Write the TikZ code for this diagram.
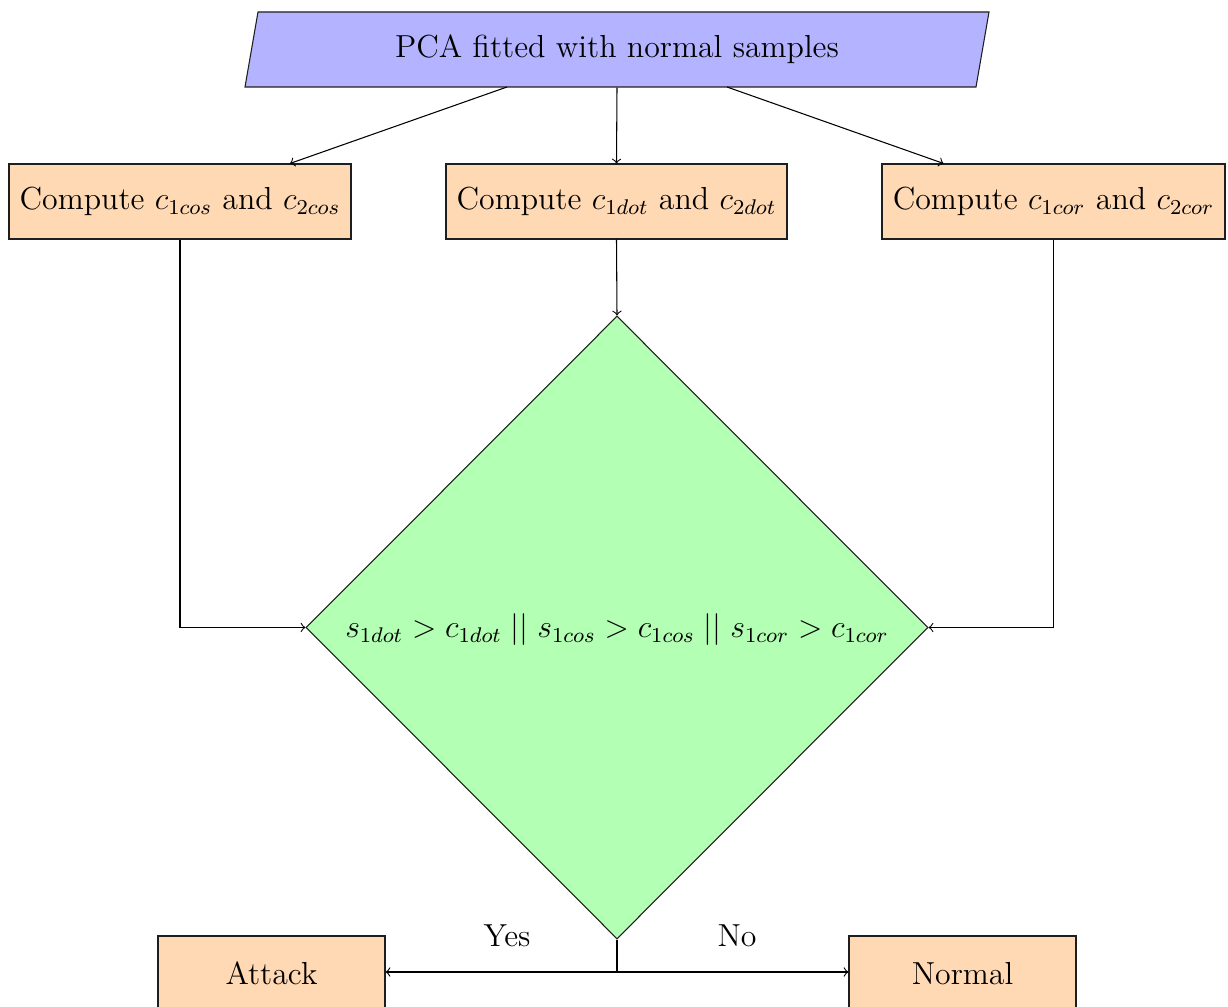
\documentclass[tikz,border=0pt]{standalone}
\usetikzlibrary{shapes.geometric,calc}
\definecolor{boxfill}{RGB}{255,217,179}
\definecolor{pcafill}{RGB}{179,179,255}
\definecolor{decfill}{RGB}{179,255,179}
\definecolor{edge}{RGB}{30,30,30}
\def\px{0.3765pt}
\begin{document}
\begin{tikzpicture}[x=0.3765pt,y=-0.3765pt,
  every node/.style={font=\fontsize{12}{14.4}\selectfont},
  procbox/.style={draw=edge,fill=boxfill,rectangle,minimum height=75*\px,inner sep=0pt},
  conn/.style={->,draw=black}]
\useasboundingbox (0,0) rectangle (1228,1007);
% input parallelogram
\fill[pcafill] (258,12) -- (989,12) -- (976,87) -- (245,87) -- cycle;
\draw[edge] (258,12) -- (989,12) -- (976,87) -- (245,87) -- cycle;
\node[minimum width=718*\px,minimum height=75*\px,inner sep=0pt] (pca) at (617,49.5) {PCA fitted with normal samples};
\coordinate (pcaL) at (507,87);
\coordinate (pcaR) at (727,87);
% compute boxes
\node[procbox,minimum width=342*\px] (cos) at (180,201.5) {Compute $c_{1cos}$ and $c_{2cos}$};
\node[procbox,minimum width=341*\px] (dot) at (616.5,201.5) {Compute $c_{1dot}$ and $c_{2dot}$};
\node[procbox,minimum width=343*\px] (cor) at (1053.5,201.5) {Compute $c_{1cor}$ and $c_{2cor}$};
% decision
\node[diamond,draw=edge,fill=decfill,inner sep=0pt,minimum width=622*\px,minimum height=623*\px] (dec) at (617,627.5) {};
\node (dectext) at (617,630) {$s_{1dot} > c_{1dot} \mid\mid s_{1cos} > c_{1cos} \mid\mid s_{1cor} > c_{1cor}$};
% outcomes
\node[procbox,minimum width=227*\px] (attack) at (271.5,973.5) {Attack};
\node[procbox,minimum width=227*\px] (normal) at (962.5,973.5) {Normal};
% connectors
\draw[conn] (pcaL) -- ($(cos.north)+(110,0)$);
\draw[conn] (pca.south) -- (dot.north);
\draw[conn] (pcaR) -- ($(cor.north)+(-110,0)$);
\draw[conn] (dot.south) -- (dec.north);
\draw[conn] (cos.south) |- (dec.west);
\draw[conn] (cor.south) |- (dec.east);
\coordinate (split) at (617,972);
\draw (dec.south) -- (split);
\draw[conn] (split) -- (attack.east |- split);
\draw[conn] (split) -- (normal.west |- split);
\node (yes) at (507,936) {Yes};
\node (no) at (737,936) {No};
\end{tikzpicture}
\end{document}
